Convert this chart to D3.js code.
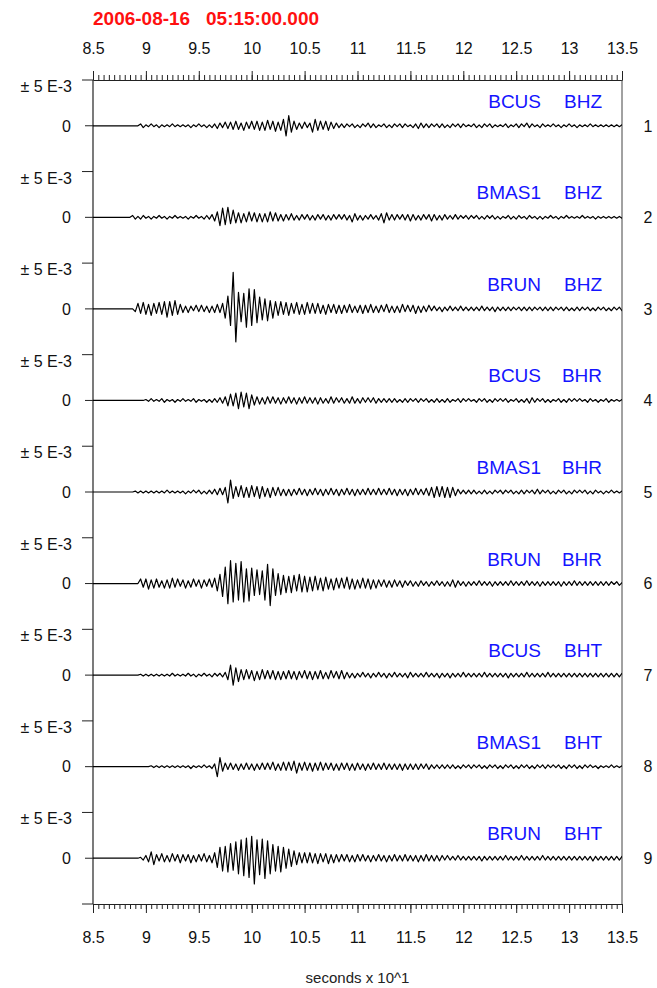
<!DOCTYPE html>
<html>
<head>
<meta charset="utf-8">
<script src="https://cdn.jsdelivr.net/npm/d3@7"></script>
<style>
  body { margin: 0; background: #fff; }
  text { font-family: "Liberation Sans", Arial, sans-serif; }
</style>
</head>
<body>
<div id="chart"></div>
<script>
const title = '2006-08-16   05:15:00.000';
const xLabel = 'seconds x 10^1';
const stations = ['BCUS', 'BMAS1', 'BRUN', 'BCUS', 'BMAS1', 'BRUN', 'BCUS', 'BMAS1', 'BRUN'];
const components = ['BHZ', 'BHZ', 'BHZ', 'BHR', 'BHR', 'BHR', 'BHT', 'BHT', 'BHT'];
const xTicks = [8.5, 9, 9.5, 10, 10.5, 11, 11.5, 12, 12.5, 13, 13.5];
const yTickLabels = ['± 5 E-3', '0'];

// samples start at t0, one every dt (x 10 s); amplitudes in 1e-4, so 50 = 5 E-3
const t0 = 8.85, dt = 0.025;

const bcusBHZ = [
  0,0,0,0,2,-2,1,-1,2,-1,   1,-2,1,-1,1,-1,2,-1,1,-1,   1,-1,1,-2,1,-1,2,-1,1,-2,
  1,-2,2,-3,3,-2,4,-3,4,-4,  5,-4,3,-5,4,-3,5,-4,5,-5,   4,-5,6,-4,5,-6,4,-5,7,-11,
  11,-7,5,-4,3,-3,4,-2,3,-7, 7,-5,5,-4,5,-5,4,-3,3,-2,   2,-2,2,-1,2,-2,1,-2,2,-1,
  3,-2,2,-2,1,-1,2,-2,1,-2,  2,-1,2,-2,2,-1,1,-2,2,-3,   3,-2,2,-2,2,-1,2,-2,2,-2,
  1,-2,2,-1,2,-2,2,-1,1,-1,  2,-2,1,-2,2,-1,2,-2,1,-1,   1,-1,2,-2,1,-1,2,-2,2,-1,
  3,-2,2,-1,1,-2,2,-1,1,-1,  2,-1,1,-2,1,-1,2,-1,1,-2,   1,-1,1,-1,2,-1,1,-1,1,-1,
  1,-1,1,-1,1,-1,1,-1,1,-1
];
const bmasBHZ = [
  0,2,-2,1,-2,2,-1,1,-2,1,   -1,2,-1,1,-2,1,-1,2,-1,1,  -1,1,-2,1,-1,2,-1,1,-2,2,
  -2,3,-4,6,-9,10,-8,11,-7,8, -6,5,-6,4,-5,6,-4,5,-5,4,  -5,4,-5,6,-4,5,-4,3,-4,3,
  -3,4,-3,2,-3,3,-2,3,-3,2,  -3,3,-2,3,-3,2,-3,3,-2,3,  -2,3,-3,2,-5,4,-3,2,-3,2,
  -2,3,-2,2,-3,4,-6,5,-3,3,  -3,3,-2,3,-3,3,-4,3,-3,2,  -3,3,-2,3,-4,3,-3,2,-3,3,
  -2,2,-2,3,-2,2,-1,2,-2,2,  -1,2,-2,1,-2,2,-1,2,-2,1,  -2,1,-1,2,-2,1,-2,2,-1,1,
  -2,2,-1,1,-2,1,-2,1,-1,2,  -1,1,-2,1,-1,2,-1,1,-1,1,  -1,2,-1,1,-1,1,-2,1,-1,1,
  -1,1,-1,1,-1,1,-1,1,-1,1
];
const brunBHZ = [
  0,0,-3,6,-5,7,-6,5,-7,6,   -5,7,-6,8,-9,8,-7,9,-6,5,  -4,3,-4,3,-2,4,-3,4,-3,3,
  -4,3,-4,5,-4,6,-10,14,-18,40, -36,18,-14,17,-20,22,-18,21,-15,13, -12,11,-13,9,-10,8,-7,8,-6,7,
  -7,6,-5,7,-6,5,-6,7,-5,6,  -5,6,-5,4,-6,5,-4,5,-5,4,  -5,4,-4,5,-4,3,-4,4,-5,4,
  -4,5,-4,3,-4,4,-3,5,-4,3,  -4,3,-4,5,-3,4,-3,4,-5,3,  -4,3,-3,4,-2,3,-2,2,-3,2,
  -2,3,-2,2,-2,3,-2,2,-2,2,  -2,2,-2,3,-2,2,-2,2,-3,2,  -2,2,-2,2,-2,2,-1,2,-2,2,
  -2,2,-2,2,-1,2,-2,2,-2,2,  -2,2,-1,2,-2,2,-2,1,-2,2,  -2,2,-1,2,-2,1,-2,2,-1,2,
  -2,1,-2,2,-1,2,-2,2,-1,1
];
const bcusBHR = [
  0,0,0,0,0,0,1,-1,2,-1,     1,-1,2,-2,1,-1,1,-2,1,-1,  2,-1,1,-1,2,-2,1,-1,1,-2,
  1,-2,2,-2,3,-3,4,-6,7,-6,  8,-9,9,-7,8,-9,6,-5,4,-4,  3,-4,4,-3,4,-3,3,-4,3,-3,
  4,-3,3,-4,3,-3,4,-3,3,-3,  3,-4,3,-3,2,-3,4,-3,3,-2,  3,-3,2,-3,4,-3,2,-3,3,-2,
  3,-2,3,-3,2,-2,2,-2,2,-2,  2,-2,1,-2,2,-2,2,-1,2,-2,  2,-1,2,-2,1,-2,2,-2,1,-2,
  2,-2,1,-1,2,-2,2,-1,2,-1,  1,-2,2,-1,2,-2,1,-2,2,-1,  2,-1,2,-2,1,-1,2,-2,1,-2,
  2,-3,3,-2,2,-1,2,-2,1,-2,  1,-1,2,-2,1,-2,2,-1,2,-1,  2,-1,1,-2,2,-1,1,-2,1,-1,
  2,-2,1,-1,1,-1,1,-1,1,-1
];
const bmasBHR = [
  0,0,1,-1,1,-1,1,-1,1,-1,   1,-1,1,-1,2,-1,1,-1,1,-1,  1,-2,1,-1,2,-1,2,-2,1,-2,
  2,-2,3,-3,4,-3,5,-12,13,-7, 6,-5,7,-6,5,-6,7,-5,6,-7,  6,-5,4,-6,5,-4,5,-4,3,-4,
  3,-4,3,-3,4,-3,3,-4,3,-3,  4,-3,3,-4,3,-3,4,-3,3,-4,  3,-3,4,-3,3,-4,3,-3,3,-3,
  4,-3,3,-3,4,-3,3,-3,4,-3,  3,-4,3,-3,3,-4,3,-3,4,-3,  3,-3,4,-4,5,-6,6,-5,6,-6,
  5,-6,5,-4,3,-2,2,-2,2,-2,  2,-2,1,-2,2,-2,1,-2,2,-1,  2,-2,2,-1,2,-2,1,-2,2,-2,
  2,-1,2,-2,3,-2,2,-1,2,-2,  1,-2,2,-1,2,-2,1,-2,2,-1,  2,-1,2,-2,1,-2,2,-1,1,-2,
  1,-1,2,-1,1,-1,1,-1,1,-1
];
const brunBHR = [
  0,0,0,0,5,-4,5,-6,4,-5,    5,-4,3,-5,4,-5,6,-4,5,-3,  4,-5,3,-4,5,-3,4,-5,4,-3,
  5,-4,6,-8,10,-14,18,-22,25,-20, 22,-18,24,-20,16,-19,17,-13,15,-12, 14,-18,21,-24,16,-13,11,-12,9,-10,
  8,-10,9,-8,10,-9,8,-9,7,-8, 8,-7,6,-8,7,-6,5,-7,6,-5,  6,-5,7,-6,5,-6,4,-5,6,-5,
  5,-6,4,-5,4,-3,4,-4,3,-4,  4,-3,3,-4,3,-2,3,-3,2,-3,  3,-2,2,-3,2,-2,3,-2,2,-3,
  2,-3,4,-4,3,-2,2,-3,2,-2,  2,-2,3,-2,2,-2,2,-3,2,-2,  2,-2,2,-2,3,-2,2,-2,2,-2,
  3,-2,2,-2,2,-3,2,-2,2,-2,  2,-2,2,-3,2,-2,2,-2,3,-2,  2,-2,2,-2,2,-2,2,-2,2,-2,
  2,-2,2,-1,2,-2,1,-2,2,-1
];
const bcusBHT = [
  0,0,0,0,1,-1,1,-1,1,-1,    1,-1,1,-1,1,-1,2,-1,1,-1,  1,-1,2,-1,1,-2,1,-1,2,-1,
  1,-2,2,-1,2,-2,3,-5,11,-11, 8,-7,6,-5,6,-4,5,-6,4,-5,  6,-4,5,-4,5,-5,4,-5,4,-4,
  5,-4,4,-5,4,-3,5,-4,4,-5,  4,-4,5,-4,3,-4,5,-3,4,-4,  5,-4,3,-3,2,-3,2,-2,3,-2,
  2,-3,2,-2,3,-2,2,-3,2,-2,  3,-2,2,-2,2,-3,3,-2,2,-2,  2,-2,3,-2,2,-2,2,-3,2,-2,
  2,-3,2,-2,2,-2,3,-2,2,-2,  2,-2,2,-2,3,-2,2,-2,2,-2,  2,-2,2,-3,2,-2,2,-2,2,-2,
  3,-2,2,-2,2,-2,2,-2,3,-2,  2,-2,2,-2,2,-2,2,-2,2,-2,  2,-2,2,-2,2,-2,2,-2,2,-2,
  2,-2,2,-2,2,-2,2,-2,2,-2
];
const bmasBHT = [
  0,0,0,0,0,0,0,0,1,-1,      1,-1,1,-1,1,-1,1,-1,1,-1,  1,-1,1,-2,1,-1,1,-1,2,-1,
  1,-2,3,-11,10,-5,4,-3,4,-3, 3,-4,3,-3,4,-3,3,-4,3,-3,  4,-3,4,-3,5,-4,3,-4,5,-4,
  5,-4,6,-7,4,-4,5,-4,4,-5,  4,-4,5,-4,4,-3,4,-4,3,-4,  4,-3,4,-4,3,-4,4,-3,3,-4,
  3,-3,4,-3,3,-3,4,-3,3,-3,  3,-3,3,-4,3,-3,3,-3,3,-3,  3,-2,3,-3,2,-2,2,-2,2,-2,
  2,-2,2,-2,1,-2,2,-1,2,-2,  2,-1,2,-2,1,-2,2,-1,2,-2,  1,-2,2,-1,2,-2,1,-2,2,-1,
  2,-2,1,-2,2,-1,2,-2,2,-1,  2,-1,2,-2,1,-2,2,-1,2,-2,  1,-2,2,-1,2,-1,1,-2,1,-1,
  1,-1,2,-1,1,-1,1,-1,1,-1
];
const brunBHT = [
  0,0,0,0,1,-2,3,-4,7,-7,    4,-3,5,-4,3,-4,5,-3,4,-5,  4,-3,4,-5,3,-4,4,-3,5,-4,
  3,-5,6,-10,12,-14,13,-15,16,-13, 18,-17,20,-19,22,-21,24,-28,20,-18, 21,-22,19,-17,15,-14,13,-15,12,-11,
  10,-9,8,-7,6,-5,6,-5,6,-5, 5,-6,5,-4,5,-6,4,-5,4,-4,  4,-3,4,-4,3,-4,4,-3,4,-3,
  3,-4,3,-3,4,-3,3,-4,3,-3,  4,-3,3,-3,4,-3,3,-3,3,-4,  3,-3,4,-3,3,-3,3,-3,3,-2,
  3,-2,2,-2,3,-2,2,-2,2,-2,  2,-2,2,-3,2,-2,2,-2,2,-2,  2,-2,3,-2,2,-2,2,-2,3,-2,
  2,-2,2,-2,2,-2,3,-2,2,-2,  2,-2,2,-2,2,-2,2,-2,2,-2,  2,-2,2,-2,2,-3,2,-2,2,-2,
  2,-2,2,-2,2,-2,2,-2,2,-2
];

const traces = [bcusBHZ, bmasBHZ, brunBHZ, bcusBHR, bmasBHR, brunBHR, bcusBHT, bmasBHT, brunBHT];

const width = 657, height = 988;
const plotLeft = 93, plotRight = 622, plotTop = 80, plotBottom = 904;

const svg = d3.select('#chart').append('svg')
  .attr('width', width).attr('height', height);

svg.append('defs').append('clipPath').attr('id', 'plot-clip')
  .append('rect')
  .attr('x', plotLeft).attr('y', plotTop)
  .attr('width', plotRight - plotLeft).attr('height', plotBottom - plotTop);

const x = d3.scaleLinear().domain([xTicks[0], xTicks[xTicks.length - 1]]).range([plotLeft, plotRight]);
const band = d3.scaleBand().domain(d3.range(traces.length)).range([plotTop, plotBottom]);

// title
svg.append('text')
  .attr('x', plotLeft).attr('y', 25)
  .style('white-space', 'pre')
  .attr('fill', '#ff1010').attr('font-size', 19).attr('font-weight', 'bold')
  .text(title);

// top and bottom rulers
const minorTicks = d3.range(0, 101).map(i => x.domain()[0] + i * 0.05);
function ruler(axisFn, y, pad) {
  const g = svg.append('g').attr('transform', `translate(0,${y})`);
  g.append('g').call(axisFn(x).tickValues(minorTicks).tickSize(5).tickSizeOuter(0).tickFormat(''));
  g.append('g').call(axisFn(x).tickValues(xTicks).tickSize(9).tickSizeOuter(0).tickPadding(pad).tickFormat(d3.format('')));
  g.selectAll('path.domain').attr('stroke', '#222');
  g.selectAll('line').attr('stroke', '#222');
  g.selectAll('text').attr('font-size', 16).attr('fill', '#111')
    .attr('font-family', '"Liberation Sans", Arial, sans-serif');
}
ruler(d3.axisTop, plotTop, 17);
ruler(d3.axisBottom, plotBottom, 19);

// frame sides
svg.append('line').attr('x1', plotLeft).attr('x2', plotLeft).attr('y1', plotTop).attr('y2', plotBottom)
  .attr('stroke', '#222').attr('stroke-width', 1.2);
svg.append('line').attr('x1', plotRight).attr('x2', plotRight).attr('y1', plotTop).attr('y2', plotBottom)
  .attr('stroke', '#444').attr('stroke-width', 1);

const line = d3.line()
  .x(d => x(d[0]))
  .y(d => d[1]);

traces.forEach((vals, i) => {
  const y = d3.scaleLinear().domain([-50, 50]).range([band(i) + band.bandwidth(), band(i)]);
  const g = svg.append('g');

  // left ticks: ±5 E-3 at panel top, 0 at centre
  g.append('line').attr('x1', plotLeft - 11).attr('x2', plotLeft).attr('y1', y(50)).attr('y2', y(50))
    .attr('stroke', '#222');
  g.append('line').attr('x1', plotLeft - 8).attr('x2', plotLeft).attr('y1', y(0)).attr('y2', y(0))
    .attr('stroke', '#222');
  g.append('text').attr('x', 72).attr('y', y(50) + 12).attr('text-anchor', 'end')
    .attr('font-size', 16).attr('fill', '#111').text(yTickLabels[0]);
  g.append('text').attr('x', 71).attr('y', y(0)).attr('dy', '0.36em').attr('text-anchor', 'end')
    .attr('font-size', 16).attr('fill', '#111').text(yTickLabels[1]);

  // trace
  const pts = [[x.domain()[0], y(0)]].concat(vals.map((v, k) => [t0 + k * dt, y(v)]));
  g.append('path').datum(pts)
    .attr('clip-path', 'url(#plot-clip)')
    .attr('fill', 'none').attr('stroke', '#000').attr('stroke-width', 1.2)
    .attr('stroke-linejoin', 'round')
    .attr('d', line);

  // station / component
  g.append('text').attr('x', 541).attr('y', y(0) - 18).attr('text-anchor', 'end')
    .attr('font-size', 19).attr('fill', '#1414ff').text(stations[i]);
  g.append('text').attr('x', 602).attr('y', y(0) - 18).attr('text-anchor', 'end')
    .attr('font-size', 19).attr('fill', '#1414ff').text(components[i]);

  // trace number
  g.append('text').attr('x', 648).attr('y', y(0)).attr('dy', '0.36em').attr('text-anchor', 'middle')
    .attr('font-size', 16).attr('fill', '#111').text(i + 1);
});

// bottom-left tick at the last panel floor
svg.append('line').attr('x1', plotLeft - 11).attr('x2', plotLeft).attr('y1', plotBottom).attr('y2', plotBottom)
  .attr('stroke', '#222');

svg.append('text').attr('x', (plotLeft + plotRight) / 2).attr('y', 983)
  .attr('text-anchor', 'middle').attr('font-size', 15).attr('fill', '#222')
  .text(xLabel);
</script>
</body>
</html>
